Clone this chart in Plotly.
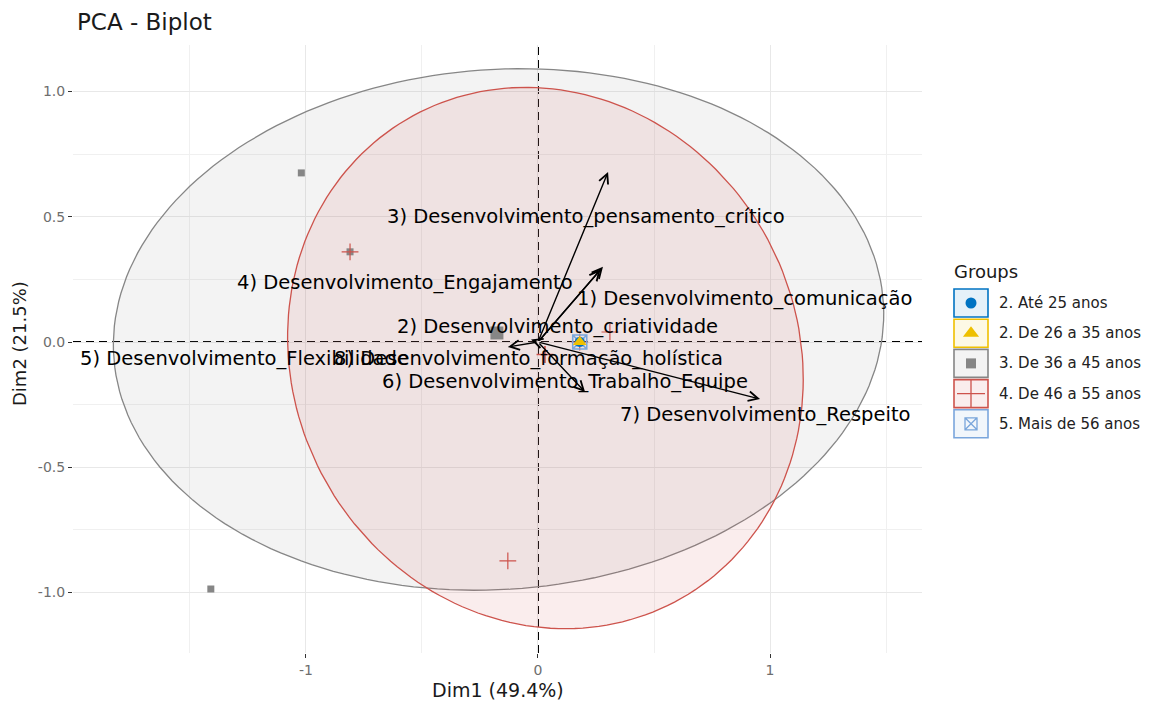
import numpy as np
import plotly.graph_objects as go

# ---------------- canvas / panel geometry (pixels) ----------------
W, H = 1150, 701
PANEL_L, PANEL_R, PANEL_T, PANEL_B = 73, 922, 45, 653
X_RANGE = [-2.004, 1.655]
Y_RANGE = [-1.2415, 1.1856]
FONT = "DejaVu Sans"

# ---------------- data ----------------
group_names = ["2. Até 25 anos", "2. De 26 a 35 anos", "3. De 36 a 45 anos",
               "4. De 46 a 55 anos", "5. Mais de 56 anos"]
group_colors = ["#0073C2", "#EFC000", "#868686", "#CD534C", "#7AA6DC"]
group_symbols = ["circle", "triangle-up", "square", "cross-thin-open", "square-x-open"]

# individuals (Dim1, Dim2) per group
ind_x_g1 = [0.18]
ind_y_g1 = [0.0]
ind_x_g2 = [0.18]
ind_y_g2 = [0.0]
ind_x_g3 = [-1.02, -1.41, -0.81, 0.18]
ind_y_g3 = [0.675, -0.986, 0.36, 0.0]
ind_x_g4 = [-0.81, -0.13, 0.31, 0.18]
ind_y_g4 = [0.36, -0.874, 0.04, 0.0]
ind_x_g5 = [0.18]
ind_y_g5 = [0.0]

# group mean points
mean_x = [0.18, 0.18, -0.177, 0.03, 0.18]
mean_y = [0.0, 0.0, 0.036, -0.05, 0.0]

# concentration ellipses (groups 3 and 4): centre, semi-axes, rotation (deg)
ell_groups = [2, 3]
ell_cx = [-0.170, 0.032]
ell_cy = [0.050, -0.064]
ell_a = [1.662, 1.14]
ell_b = [1.038, 1.05]
ell_angle = [3.5, -35.0]

# variables (loadings)
var_labels = ["1) Desenvolvimento_comunicação", "2) Desenvolvimento_criatividade",
              "3) Desenvolvimento_pensamento_crítico", "4) Desenvolvimento_Engajamento",
              "5) Desenvolvimento_Flexibilidade", "6) Desenvolvimento_Trabalho_Equipe",
              "7) Desenvolvimento_Respeito", "8) Desenvolvimento_formação_holística"]
var_x = [0.28, -0.03, 0.302, 0.27, -0.13, 0.203, 0.957, -0.02]
var_y = [0.30, 0.01, 0.679, 0.29, -0.02, -0.20, -0.228, -0.01]

# repelled label anchors (Dim1, Dim2)
lab_x = [0.892, 0.086, 0.207, -0.573, -1.263, 0.116, 0.978, -0.043]
lab_y = [0.172, 0.060, 0.499, 0.236, -0.064, -0.156, -0.291, -0.064]

x_ticks = [-1, 0, 1]
x_ticktext = ["-1", "0", "1"]
y_ticks = [-1.0, -0.5, 0.0, 0.5, 1.0]
y_ticktext = ["-1.0", "-0.5", "0.0", "0.5", "1.0"]


def rgba(hex_color, alpha):
    h = hex_color.lstrip("#")
    r, g, b = int(h[0:2], 16), int(h[2:4], 16), int(h[4:6], 16)
    return f"rgba({r},{g},{b},{alpha})"


def ellipse(cx, cy, a, b, angle_deg, n=200):
    t = np.linspace(0, 2 * np.pi, n)
    th = np.deg2rad(angle_deg)
    x = a * np.cos(t) * np.cos(th) - b * np.sin(t) * np.sin(th) + cx
    y = a * np.cos(t) * np.sin(th) + b * np.sin(t) * np.cos(th) + cy
    return x, y


fig = go.Figure()

# ellipses
for gi, cx, cy, a, b, ang in zip(ell_groups, ell_cx, ell_cy, ell_a, ell_b, ell_angle):
    ex, ey = ellipse(cx, cy, a, b, ang)
    fig.add_trace(go.Scatter(
        x=ex, y=ey, mode="lines", fill="toself",
        fillcolor=rgba(group_colors[gi], 0.1),
        line=dict(color=group_colors[gi], width=1.3),
        hoverinfo="skip", showlegend=False))

# individuals
ind_sets = [(ind_x_g1, ind_y_g1), (ind_x_g2, ind_y_g2), (ind_x_g3, ind_y_g3),
            (ind_x_g4, ind_y_g4), (ind_x_g5, ind_y_g5)]
ind_sizes = [7, 7, 7, 12, 8]
for gi, (xs, ys) in enumerate(ind_sets):
    sym = group_symbols[gi]
    open_sym = sym.endswith("open")
    fig.add_trace(go.Scatter(
        x=xs, y=ys, mode="markers", showlegend=False, hoverinfo="skip",
        marker=dict(symbol=sym, size=ind_sizes[gi], color=group_colors[gi],
                    line=dict(color=group_colors[gi], width=1.2 if open_sym else 0))))

# group means (larger)
mean_sizes = [10, 12, 13, 12, 14]
for gi in [4, 0, 1, 2, 3]:
    sym = group_symbols[gi]
    open_sym = sym.endswith("open")
    fig.add_trace(go.Scatter(
        x=[mean_x[gi]], y=[mean_y[gi]], mode="markers", showlegend=False,
        hoverinfo="skip",
        marker=dict(symbol=sym, size=mean_sizes[gi], color=group_colors[gi],
                    line=dict(color=group_colors[gi], width=1.6 if open_sym else 0))))

annotations = []
shapes = []

# reference dashed axes through the origin
DASH = dict(color="black", width=2, dash="8px,5px")
shapes.append(dict(type="line", xref="x", yref="y", x0=X_RANGE[0], x1=X_RANGE[1],
                   y0=0, y1=0, line=DASH, layer="below"))
shapes.append(dict(type="line", xref="x", yref="y", x0=0, x1=0,
                   y0=Y_RANGE[0], y1=Y_RANGE[1], line=DASH, layer="below"))

# variable arrows
for vx, vy in zip(var_x, var_y):
    annotations.append(dict(
        x=vx, y=vy, ax=0, ay=0, xref="x", yref="y", axref="x", ayref="y",
        text="", showarrow=True, arrowhead=5, arrowsize=1.35, arrowwidth=1.4,
        arrowcolor="black", standoff=0, startstandoff=0))

# variable labels
for lbl, lx, ly in zip(var_labels, lab_x, lab_y):
    annotations.append(dict(
        x=lx, y=ly, xref="x", yref="y", text=lbl, showarrow=False,
        xanchor="center", yanchor="middle",
        font=dict(family=FONT, size=19.5, color="black")))

# ---------------- text in pixel space (x2 / y2 span the whole canvas) ----------------
annotations.append(dict(x=75, y=22, xref="x2", yref="y2", text="PCA - Biplot",
                        showarrow=False, xanchor="left", yanchor="middle",
                        font=dict(family=FONT, size=23, color="#1a1a1a")))
annotations.append(dict(x=(PANEL_L + PANEL_R) / 2, y=690, xref="x2", yref="y2",
                        text="Dim1 (49.4%)", showarrow=False, xanchor="center",
                        yanchor="middle", font=dict(family=FONT, size=19, color="#1a1a1a")))
annotations.append(dict(x=19, y=(PANEL_T + PANEL_B) / 2 - 5, xref="x2", yref="y2",
                        text="Dim2 (21.5%)", showarrow=False, textangle=-90,
                        xanchor="center", yanchor="middle",
                        font=dict(family=FONT, size=18, color="#1a1a1a")))

# legend
LEG_X, LEG_TOP, KEY_W, KEY_H, KEY_STEP = 954, 303, 34, 30, 30.2
annotations.append(dict(x=LEG_X - 2, y=271, xref="x2", yref="y2", text="Groups",
                        showarrow=False, xanchor="left", yanchor="middle",
                        font=dict(family=FONT, size=18, color="#1a1a1a")))
leg_sizes = [11, 14, 10, 20, 12]
for gi, name in enumerate(group_names):
    cy = LEG_TOP + gi * KEY_STEP
    shapes.append(dict(type="rect", xref="x2", yref="y2",
                       x0=LEG_X, x1=LEG_X + KEY_W, y0=cy - KEY_H / 2 + 1, y1=cy + KEY_H / 2 - 1,
                       fillcolor=rgba(group_colors[gi], 0.1),
                       line=dict(color=group_colors[gi], width=1.6)))
    annotations.append(dict(x=LEG_X + KEY_W + 9, y=cy, xref="x2", yref="y2", text=name,
                            showarrow=False, xanchor="left", yanchor="middle",
                            font=dict(family=FONT, size=15, color="#222222")))
    sym = group_symbols[gi]
    open_sym = sym.endswith("open")
    fig.add_trace(go.Scatter(
        x=[LEG_X + KEY_W / 2], y=[cy], xaxis="x2", yaxis="y2", mode="markers",
        showlegend=False, hoverinfo="skip",
        marker=dict(symbol=sym, size=leg_sizes[gi], color=group_colors[gi],
                    line=dict(color=group_colors[gi], width=1.3 if open_sym else 0))))

axis_common = dict(showline=False, zeroline=False, ticks="outside", ticklen=4,
                   tickwidth=1.3, tickcolor="#333333", showgrid=True,
                   gridcolor="#e8e8e8", gridwidth=1.4, automargin=False,
                   tickfont=dict(family=FONT, size=14, color="#6e6e6e"))

fig.update_layout(
    width=W, height=H,
    margin=dict(l=0, r=0, t=0, b=0),
    paper_bgcolor="white",
    plot_bgcolor="rgba(0,0,0,0)",
    showlegend=False,
    xaxis=dict(domain=[PANEL_L / W, PANEL_R / W], range=X_RANGE,
               tickmode="array", tickvals=x_ticks, ticktext=x_ticktext,
               minor=dict(tickmode="linear", tick0=0, dtick=0.5, showgrid=True,
                          gridcolor="#f0f0f0", gridwidth=1.1, ticks=""),
               anchor="y", **axis_common),
    yaxis=dict(domain=[(H - PANEL_B) / H, (H - PANEL_T) / H], range=Y_RANGE,
               tickmode="array", tickvals=y_ticks, ticktext=y_ticktext,
               minor=dict(tickmode="linear", tick0=0, dtick=0.25, showgrid=True,
                          gridcolor="#f0f0f0", gridwidth=1.1, ticks=""),
               anchor="x", **axis_common),
    xaxis2=dict(domain=[0, 1], range=[0, W], visible=False, fixedrange=True,
                anchor="y2", showgrid=False, zeroline=False),
    yaxis2=dict(domain=[0, 1], range=[H, 0], visible=False, fixedrange=True,
                anchor="x2", showgrid=False, zeroline=False),
    annotations=annotations,
    shapes=shapes,
)

fig.write_html("out.html")
